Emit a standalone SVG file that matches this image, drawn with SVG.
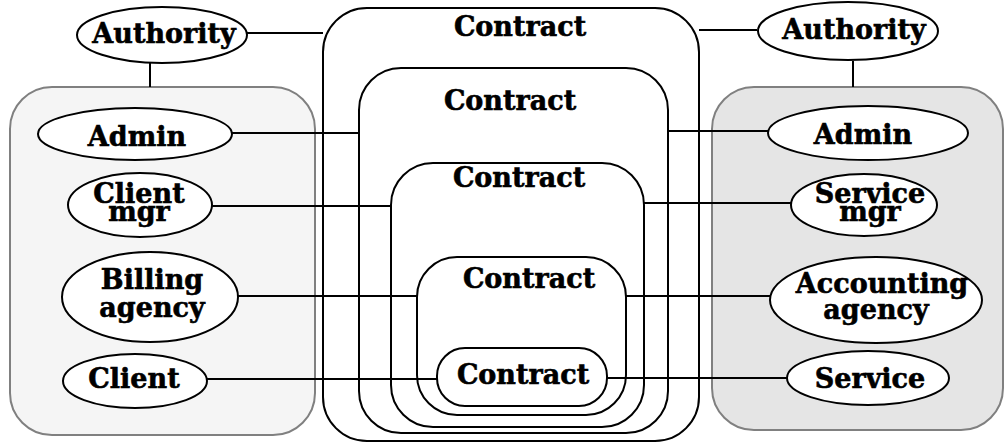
<svg xmlns="http://www.w3.org/2000/svg" width="1004" height="442" viewBox="0 0 1004 442">
  <style>
    .lbl { font-family: "DejaVu Serif", "Liberation Serif", serif; font-weight: bold; font-size: 27px; fill: #000; stroke: #000; stroke-width: 0.6; text-anchor: middle; }
    .ell { fill: #fff; stroke: #000; stroke-width: 2; }
    .ctr { fill: none; stroke: #000; stroke-width: 2; }
    .grp { stroke: #808080; stroke-width: 2; }
    .wire { stroke: #000; stroke-width: 2; fill: none; }
  </style>

  <!-- domain boxes -->
  <g id="client-domain">
    <rect class="grp" x="10" y="87" width="305" height="348" rx="42" fill="#f5f5f5"/>
  </g>
  <g id="service-domain">
    <rect class="grp" x="712" y="87" width="291" height="343" rx="42" fill="#e5e5e5"/>
  </g>

  <!-- connectors -->
  <g id="connectors">
    <line class="wire" x1="247" y1="33" x2="323" y2="33"/>
    <line class="wire" x1="150" y1="63" x2="150" y2="87"/>
    <line class="wire" x1="232" y1="133" x2="359" y2="133"/>
    <line class="wire" x1="212" y1="206" x2="391" y2="206"/>
    <line class="wire" x1="238" y1="296" x2="417" y2="296"/>
    <line class="wire" x1="207" y1="379" x2="437" y2="379"/>

    <line class="wire" x1="699" y1="30" x2="757" y2="30"/>
    <line class="wire" x1="853" y1="61" x2="853" y2="87"/>
    <line class="wire" x1="668" y1="131" x2="768" y2="131"/>
    <line class="wire" x1="644" y1="203" x2="791" y2="203"/>
    <line class="wire" x1="626" y1="296" x2="770" y2="296"/>
    <line class="wire" x1="607" y1="378" x2="787" y2="378"/>
  </g>

  <!-- nested contracts -->
  <g id="contract-1">
    <rect class="ctr" x="323" y="8" width="376" height="433" rx="44"/>
    <text class="lbl" x="520" y="36">Contract</text>
  </g>
  <g id="contract-2">
    <rect class="ctr" x="359" y="68" width="309" height="365" rx="42"/>
    <text class="lbl" x="510" y="110">Contract</text>
  </g>
  <g id="contract-3">
    <rect class="ctr" x="391" y="163" width="253" height="264" rx="42"/>
    <text class="lbl" x="519" y="187">Contract</text>
  </g>
  <g id="contract-4">
    <rect class="ctr" x="417" y="257" width="209" height="158" rx="40"/>
    <text class="lbl" x="529" y="288">Contract</text>
  </g>
  <g id="contract-5">
    <rect class="ctr" x="437" y="348" width="170" height="58" rx="28"/>
    <text class="lbl" x="523" y="384">Contract</text>
  </g>

  <!-- client side roles -->
  <g id="authority-left">
    <ellipse class="ell" cx="162" cy="35" rx="85" ry="28"/>
    <text class="lbl" x="164" y="43">Authority</text>
  </g>
  <g id="admin-left">
    <ellipse class="ell" cx="135" cy="134" rx="97" ry="26"/>
    <text class="lbl" x="137" y="146">Admin</text>
  </g>
  <g id="client-mgr">
    <ellipse class="ell" cx="140" cy="205" rx="72" ry="32"/>
    <text class="lbl" x="139" y="203">Client</text>
    <text class="lbl" x="139" y="221">mgr</text>
  </g>
  <g id="billing-agency">
    <ellipse class="ell" cx="150" cy="297" rx="88" ry="45"/>
    <text class="lbl" x="152" y="289">Billing</text>
    <text class="lbl" x="152" y="317">agency</text>
  </g>
  <g id="client">
    <ellipse class="ell" cx="135" cy="381" rx="72" ry="27"/>
    <text class="lbl" x="134" y="388">Client</text>
  </g>

  <!-- service side roles -->
  <g id="authority-right">
    <ellipse class="ell" cx="848" cy="31" rx="90" ry="29"/>
    <text class="lbl" x="854" y="39">Authority</text>
  </g>
  <g id="admin-right">
    <ellipse class="ell" cx="868" cy="133" rx="100" ry="27"/>
    <text class="lbl" x="863" y="144">Admin</text>
  </g>
  <g id="service-mgr">
    <ellipse class="ell" cx="864" cy="205" rx="73" ry="31"/>
    <text class="lbl" x="870" y="203">Service</text>
    <text class="lbl" x="870" y="221">mgr</text>
  </g>
  <g id="accounting-agency">
    <ellipse class="ell" cx="876" cy="300" rx="106" ry="43"/>
    <text class="lbl" x="882" y="293">Accounting</text>
    <text class="lbl" x="876" y="319">agency</text>
  </g>
  <g id="service">
    <ellipse class="ell" cx="868" cy="378" rx="81" ry="27"/>
    <text class="lbl" x="870" y="388">Service</text>
  </g>
</svg>
